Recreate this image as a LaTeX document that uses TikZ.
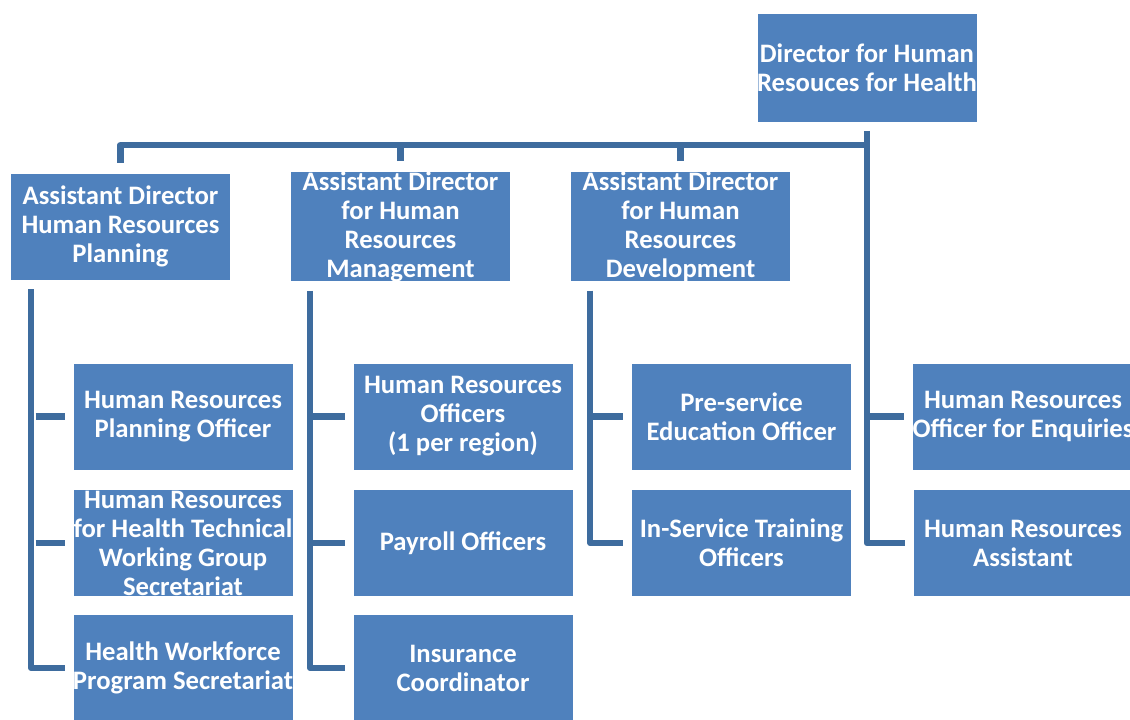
\documentclass[tikz,border=0pt]{standalone}
\usepackage{fontspec}
\setmainfont{Carlito}
\usepackage{tikz}
\usetikzlibrary{positioning, calc}
\definecolor{boxblue}{HTML}{4F81BD}
\definecolor{linkblue}{HTML}{3E6C9E}
\tikzstyle{head} = [rectangle, fill=boxblue, draw=white, thin, text=white,
    align=center, inner sep=0pt, minimum width=165pt, minimum height=82pt,
    font=\fontsize{20}{21.75}\selectfont\bfseries]
\tikzstyle{assistant} = [head, minimum height=80pt]
\tikzstyle{officer} = [head, minimum width=165pt, minimum height=80.5pt]
\tikzstyle{line} = [draw=linkblue, line width=4.8pt, line join=round]

\begin{document}
\begin{tikzpicture}[x=0.75pt, y=-0.75pt]
    \useasboundingbox (0,0) rectangle (1130,719);
    % Nodes
    \node [head] (dir) at (867,68) {Director for Human\\Resouces for Health};
    \node [assistant] (adplan) at (120.5,226.5) {Assistant Director\\Human Resources\\Planning};
    \node [assistant] (adman) at (400.5,226.5) {Assistant Director\\for Human\\Resources\\Management};
    \node [assistant] (addev) at (680.5,226.5) {Assistant Director\\for Human\\Resources\\Development};
    \node [officer] (hrplan) at (183,416.5) {Human Resources\\Planning Officer};
    \node [officer] (hrtwg) at (183,543) {Human Resources\\for Health Technical\\Working Group\\Secretariat};
    \node [officer] (hwprog) at (183,668) {Health Workforce\\Program Secretariat};
    \node [officer] (hrofficers) at (463,416.5) {Human Resources\\Officers\\(1 per region)};
    \node [officer] (payroll) at (463,543) {Payroll Officers};
    \node [officer] (insur) at (463,668) {Insurance\\Coordinator};
    \node [officer] (preserv) at (741.5,416.5) {Pre-service\\Education Officer};
    \node [officer] (inserv) at (741.5,543) {In-Service Training\\Officers};
    \node [officer] (hrenq) at (1023,416.5) {Human Resources\\Officer for Enquiries};
    \node [officer] (hrasst) at (1023,543) {Human Resources\\Assistant};
    % Edges
    \coordinate (bus) at ([yshift=-16.5pt]dir.south);
    \path [line] ([yshift=7.5pt]adplan.north) |- (bus);
    \path [line] ([yshift=7.5pt]adman.north) -- (adman.north |- bus);
    \path [line] ([yshift=7.5pt]addev.north) -- (addev.north |- bus);
    \path [line] ([yshift=-6pt]dir.south) |- ([xshift=-6pt]hrasst.west);
    \path [line] (bus |- hrenq.west) -- ([xshift=-6pt]hrenq.west);
    \path [line] ([xshift=15.75pt, yshift=-6.75pt]adplan.south west) |- ([xshift=-6pt]hwprog.west);
    \path [line] (hrplan.west -| hwprog.west) ++(-27.75pt,0) -- ([xshift=-6pt]hrplan.west);
    \path [line] (hrtwg.west) ++(-27.75pt,0) -- ([xshift=-6pt]hrtwg.west);
    \path [line] ([xshift=15pt, yshift=-6.75pt]adman.south west) |- ([xshift=-6pt]insur.west);
    \path [line] (hrofficers.west) ++(-32.25pt,0) -- ([xshift=-6pt]hrofficers.west);
    \path [line] (payroll.west) ++(-32.25pt,0) -- ([xshift=-6pt]payroll.west);
    \path [line] ([xshift=15pt, yshift=-6.75pt]addev.south west) |- ([xshift=-6pt]inserv.west);
    \path [line] (preserv.west) ++(-31.5pt,0) -- ([xshift=-6pt]preserv.west);
\end{tikzpicture}
\end{document}
